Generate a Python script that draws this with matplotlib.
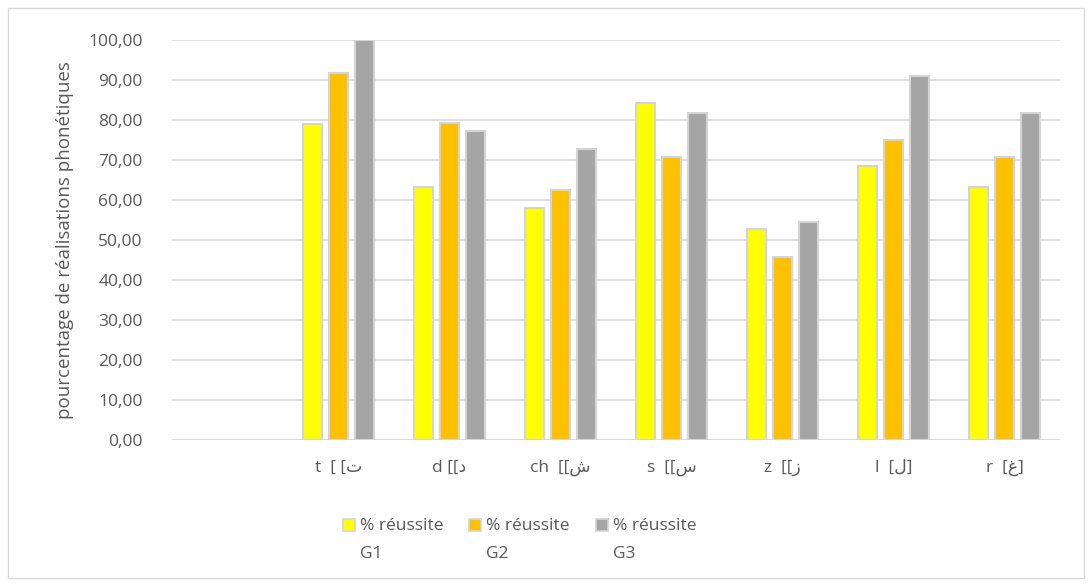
import matplotlib.pyplot as plt
import numpy as np
from matplotlib.patches import Rectangle

categories = ["", "t  [ [ت", "d [[د", "ch  [[ش", "s  [[س", "z  [[ز", "l  [ل]", "r  [غ]"]
g1 = [np.nan, 78.95, 63.16, 57.89, 84.21, 52.63, 68.42, 63.16]
g2 = [np.nan, 91.67, 79.17, 62.50, 70.83, 45.83, 75.00, 70.83]
g3 = [np.nan, 100.00, 77.27, 72.73, 81.82, 54.55, 90.91, 81.82]
series_names = ["% réussite\nG1", "% réussite\nG2", "% réussite\nG3"]
colors = ["#FFFF00", "#FFC000", "#A5A5A5"]

plt.rcParams["font.family"] = ["Open Sans", "DejaVu Sans"]
text_color = "#595959"
W, H = 1092, 584

fig = plt.figure(figsize=(W / 100, H / 100), dpi=100)
fig.patches.append(Rectangle((8 / W, 6 / H), 1076 / W, 570 / H,
                             transform=fig.transFigure, fill=False,
                             edgecolor="#D9D9D9", linewidth=1))
ax = fig.add_axes([172 / W, 1 - 440 / H, 888 / W, 400 / H])

x = np.arange(len(categories))
width = 0.17
step = 0.232
for i, (vals, col) in enumerate(zip([g1, g2, g3], colors)):
    ax.bar(x + (i - 1) * step, vals, width, color=col,
           edgecolor="#D4D4D4", linewidth=1.5, zorder=3)

ax.set_xlim(-0.5, len(categories) - 0.5)
ax.set_ylim(0, 100)
ax.set_yticks(range(0, 101, 10))
ax.set_yticklabels([f"{v},00" for v in range(0, 101, 10)], fontsize=12.5,
                   color=text_color)
ax.set_xticks(x)
ax.set_xticklabels(categories, fontsize=12.5, color=text_color)
ax.tick_params(axis="both", length=0)
ax.tick_params(axis="y", pad=21)
ax.tick_params(axis="x", pad=14)
ax.grid(axis="y", color="#D9D9D9", linewidth=1.2, zorder=0)
for s in ax.spines.values():
    s.set_visible(False)
ax.axhline(0, color="#D9D9D9", linewidth=1.2, zorder=1)
ax.set_ylabel("pourcentage de réalisations phonétiques", fontsize=13.5,
              color=text_color, labelpad=10)

# légende dessinée à la main (carré aligné sur la première ligne)
leg_x = [343, 469, 596]
for lx, name, col in zip(leg_x, series_names, colors):
    fig.patches.append(Rectangle((lx / W, 1 - 531 / H), 12 / W, 12 / H,
                                 transform=fig.transFigure, facecolor=col,
                                 edgecolor="#D4D4D4", linewidth=1.2))
    first, second = name.split("\n")
    fig.text((lx + 17) / W, 1 - 530 / H, first, fontsize=12.5,
             color=text_color, va="baseline")
    fig.text((lx + 17) / W, 1 - 558 / H, second, fontsize=12.5,
             color=text_color, va="baseline")

fig.savefig("out.png", dpi=100)
